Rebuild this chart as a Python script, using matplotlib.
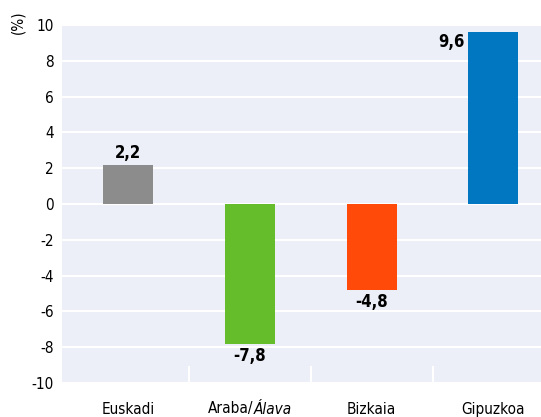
import matplotlib.pyplot as plt
import matplotlib.transforms as mtransforms

# Data
regions = ["Euskadi", "Araba/", "Bizkaia", "Gipuzkoa"]
region_italic = "Álava"
changes = [2.2, -7.8, -4.8, 9.6]
colors = ["#8c8c8c", "#66bd2b", "#ff4a0a", "#0077c0"]
yticks = [-10, -8, -6, -4, -2, 0, 2, 4, 6, 8, 10]

plt.rcParams['font.family'] = ['DejaVu Sans']
plt.rcParams['font.stretch'] = 'condensed'

fig = plt.figure(figsize=(5.41, 4.17), dpi=100)
ax = fig.add_axes([62 / 541, 34 / 417, 479 / 541, 358 / 417])
ax.set_facecolor("#eceff7")

x = list(range(len(regions)))
ax.bar(x, changes, width=0.41, color=colors, zorder=3)

ax.set_ylim(-10, 10)
ax.set_xlim(-0.54, 3.39)
ax.set_yticks(yticks)
ax.set_yticklabels([str(t) for t in yticks], fontsize=11)
ax.grid(axis='y', color='white', linewidth=1.5, zorder=1)
ax.set_axisbelow(True)

ax.set_xticks(x)
ax.set_xticklabels(["Euskadi", "", "Bizkaia", "Gipuzkoa"], fontsize=11)
ax.set_xticks([0.5, 1.5, 2.5], minor=True)
ax.tick_params(axis='x', which='major', length=0, pad=14)
ax.tick_params(axis='x', which='minor', direction='in', length=12, width=1.5, color='white')
ax.tick_params(axis='y', length=0, pad=6)
for s in ax.spines.values():
    s.set_visible(False)

# Araba/Álava label: regular + italic part
trans = mtransforms.blended_transform_factory(ax.transData, fig.transFigure)
lab_y = 1 - 409 / 417
ax.text(1.03, lab_y, regions[1], transform=trans, ha='right', va='center', fontsize=11)
ax.text(1.03, lab_y, region_italic, transform=trans, ha='left', va='center', fontsize=11, style='italic')

# value labels
for i, v in enumerate(changes):
    txt = f"{v:.1f}".replace(".", ",")
    if i == 3:
        ax.text(i - 0.24, v - 0.05, txt, ha='right', va='top', fontsize=12, fontweight='bold')
    elif v >= 0:
        ax.text(i, v + 0.15, txt, ha='center', va='bottom', fontsize=12, fontweight='bold')
    else:
        ax.text(i, v - 0.2, txt, ha='center', va='top', fontsize=12, fontweight='bold')

fig.text(18 / 541, 1 - 22 / 417, "(%)", rotation=90, ha='center', va='center', fontsize=11)

fig.savefig("out.png", dpi=100)
